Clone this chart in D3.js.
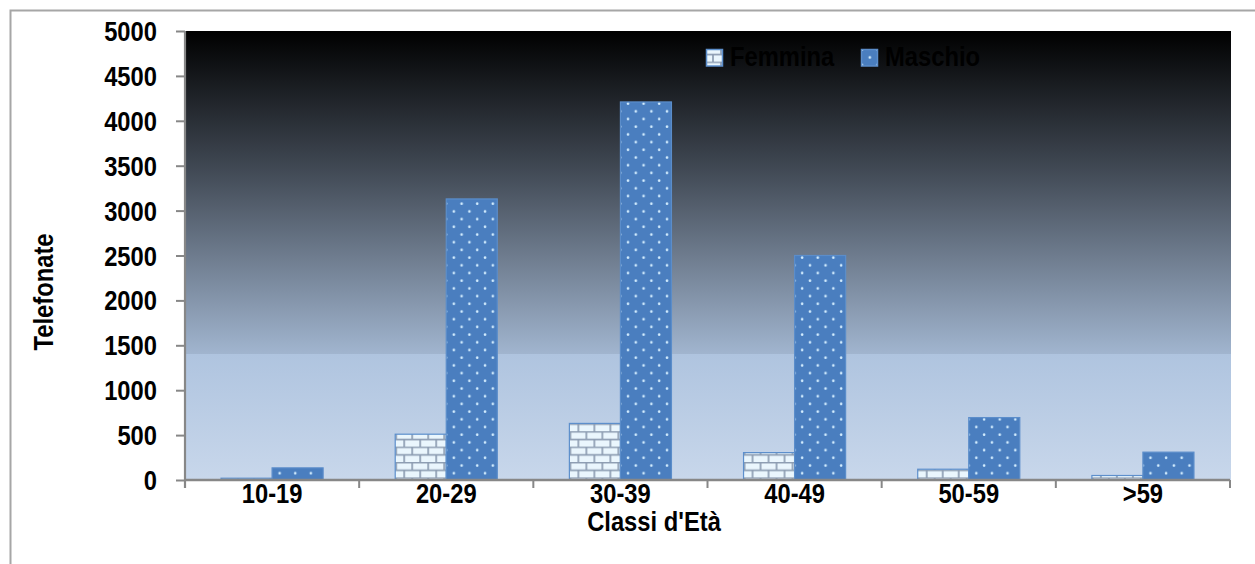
<!DOCTYPE html>
<html><head><meta charset="utf-8">
<script src="https://cdn.jsdelivr.net/npm/d3@7/dist/d3.min.js"></script>
<style>html,body{margin:0;padding:0;background:#fff;overflow:hidden}</style>
</head><body>
<svg id="c" width="1255" height="564"></svg>
<script>
const categories = ["10-19","20-29","30-39","40-49","50-59",">59"];
const seriesNames = ["Femmina","Maschio"];
const femmina = [20, 510, 630, 305, 120, 50];
const maschio = [135, 3130, 4210, 2500, 695, 310];
const yTicks = [0,500,1000,1500,2000,2500,3000,3500,4000,4500,5000];

const svg = d3.select("#c");
const W = 1255, H = 564;
const m = {l:185, r:1231, t:31, b:480};
const FONT = "'Liberation Sans', Arial, sans-serif";
const FS = 24.5;
const SX = 0.97, SY = 1.13;

const defs = svg.append("defs");
const grad = defs.append("linearGradient").attr("id","bg").attr("x1",0).attr("y1",0).attr("x2",0).attr("y2",1);
[[0,"#000000"],[0.3,"#3f4752"],[0.72,"#a1b5cf"],[0.72,"#afc4df"],[1,"#c8d7eb"]].forEach(s=>grad.append("stop").attr("offset",s[0]).attr("stop-color",s[1]));

const pb = defs.append("pattern").attr("id","brick").attr("patternUnits","userSpaceOnUse").attr("width",16).attr("height",15.4);
pb.append("rect").attr("width",16).attr("height",15.4).attr("fill","#eaf6fd");
pb.append("path").attr("d","M0,0.5H16M0,8.2H16M1,0V8.2M9,8.2V15.4").attr("stroke","#8d9db2").attr("stroke-width",1.7).attr("fill","none");
const pd = defs.append("pattern").attr("id","dots").attr("patternUnits","userSpaceOnUse").attr("width",15.6).attr("height",15.4);
pd.append("rect").attr("width",15.6).attr("height",15.4).attr("fill","#4a7ebf");
pd.append("circle").attr("cx",4).attr("cy",3.5).attr("r",1.3).attr("fill","#d4eeff");
pd.append("circle").attr("cx",11.8).attr("cy",11.2).attr("r",1.3).attr("fill","#d4eeff");

svg.append("path").attr("d",`M10.5,${H}V10.5H${W}`).attr("fill","none").attr("stroke","#a6a6a6").attr("stroke-width",2);
svg.append("rect").attr("x",m.l).attr("y",m.t).attr("width",m.r-m.l).attr("height",m.b-m.t).attr("fill","url(#bg)");

const x = d3.scaleBand().domain(categories).range([m.l, 1230]).paddingInner(0.414).paddingOuter(0.207);
const xs = d3.scaleBand().domain(seriesNames).range([0, x.bandwidth()]);
const y = d3.scaleLinear().domain([0,5000]).range([m.b, m.t]);

const data = categories.map((c,i)=>({c, vals:[{s:"Femmina",v:femmina[i]},{s:"Maschio",v:maschio[i]}]}));
const fills = {Femmina:"url(#brick)", Maschio:"url(#dots)"};
const strokes = {Femmina:"#5d8fcc", Maschio:"#5b8dca"};

svg.append("g").selectAll("g").data(data).join("g")
  .attr("transform", d=>`translate(${x(d.c)},0)`)
  .selectAll("rect").data(d=>d.vals).join("rect")
  .attr("x", d=>xs(d.s)).attr("width", xs.bandwidth())
  .attr("y", d=>y(d.v)).attr("height", d=>y(0)-y(d.v))
  .attr("fill", d=>fills[d.s]).attr("stroke", d=>strokes[d.s]).attr("stroke-width",1.2);

const axisCol = "#878787";
const yAxis = svg.append("g").attr("transform",`translate(${m.l},0)`)
  .call(d3.axisLeft(y).tickValues(yTicks).tickSize(9).tickFormat(""));
yAxis.select(".domain").remove();
yAxis.selectAll("line").attr("stroke",axisCol).attr("stroke-width",2);
svg.append("line").attr("x1",m.l).attr("x2",m.l).attr("y1",m.t).attr("y2",488).attr("stroke",axisCol).attr("stroke-width",2.2);

function txt(sel){ return sel.attr("font-family",FONT).attr("font-weight","bold").attr("font-size",FS).attr("fill","#000"); }

txt(svg.append("g").selectAll("text").data(yTicks).join("text")
  .attr("transform", d=>`translate(157,${y(d)+10}) scale(${SX},${SY})`)
  .attr("text-anchor","end")).text(d=>d);

svg.append("line").attr("x1",m.l).attr("x2",1230).attr("y1",m.b).attr("y2",m.b).attr("stroke",axisCol).attr("stroke-width",2.4);
const bounds = categories.map(c=>x(c)-x.step()*x.paddingInner()/2).concat([1230]);
svg.append("g").selectAll("line").data(bounds).join("line")
  .attr("x1",d=>d).attr("x2",d=>d).attr("y1",m.b).attr("y2",488).attr("stroke",axisCol).attr("stroke-width",2);
txt(svg.append("g").selectAll("text").data(categories).join("text")
  .attr("transform", d=>`translate(${x(d)+x.bandwidth()/2},503) scale(${SX},${SY})`)
  .attr("text-anchor","middle")).text(d=>d);

txt(svg.append("text").attr("transform",`translate(654,531) scale(${SX},${SY})`).attr("text-anchor","middle")).text("Classi d'Età");
txt(svg.append("text").attr("transform",`translate(53,292) rotate(-90) scale(${SX},${SY})`).attr("text-anchor","middle")).text("Telefonate");

const leg = [{s:"Femmina",x:706,tx:730},{s:"Maschio",x:861,tx:885}];
const lg = svg.append("g");
lg.selectAll("rect").data(leg).join("rect")
  .attr("x",d=>d.x+0.5).attr("y",49.5).attr("width",16).attr("height",16.5)
  .attr("fill",d=>fills[d.s]).attr("stroke",d=>strokes[d.s]).attr("stroke-width",1.5);
txt(lg.selectAll("text").data(leg).join("text")
  .attr("transform",d=>`translate(${d.tx},66) scale(${SX},${SY})`)).text(d=>d.s);
</script>
</body></html>
